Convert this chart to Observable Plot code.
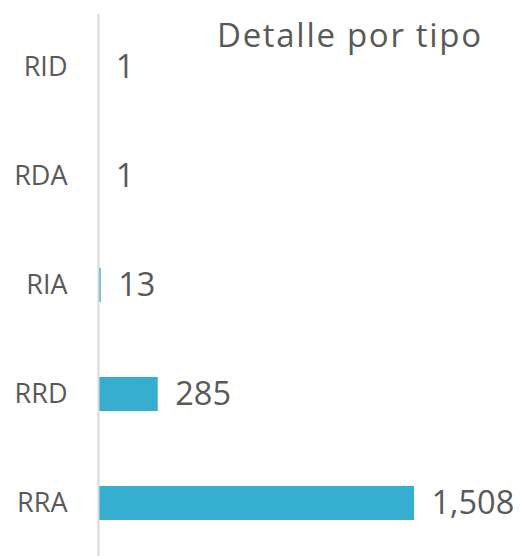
<!DOCTYPE html>
<html>
<head>
<meta charset="utf-8">
<script src="https://cdn.jsdelivr.net/npm/d3@7"></script>
<script src="https://cdn.jsdelivr.net/npm/@observablehq/plot@0.6"></script>
<style>
  html, body { margin: 0; padding: 0; background: #fff; }
  #wrap { position: relative; width: 520px; height: 556px; }
  #title {
    position: absolute; top: 12px; left: 217px;
    font-family: "Open Sans", sans-serif; font-size: 33px; color: #595959;
    white-space: nowrap; letter-spacing: 1.7px; line-height: normal;
  }
</style>
</head>
<body>
<div id="wrap">
  <div id="title">Detalle por tipo</div>
</div>
<script>
const categories = ["RID", "RDA", "RIA", "RRD", "RRA"];
const values = [1, 1, 13, 285, 1508];
const data = categories.map((c, i) => ({tipo: c, valor: values[i]}));

const chart = Plot.plot({
  width: 520,
  height: 556,
  marginLeft: 98,
  marginRight: 106,
  marginTop: 14,
  marginBottom: 0,
  style: {fontFamily: "Open Sans, sans-serif", color: "#595959", background: "transparent"},
  x: {domain: [0, 1508], axis: null},
  y: {domain: categories, paddingInner: 0.688, paddingOuter: 0.33, label: null},
  marks: [
    Plot.axisY({tickSize: 0, tickPadding: 31, fontSize: 27, fill: "#595959", label: null}),
    Plot.barX(data, {x: "valor", y: "tipo", fill: "#36AECF", insetLeft: 1}),
    Plot.ruleX([0], {stroke: "#d9d9d9", strokeWidth: 2}),
    Plot.text(data, {x: "valor", y: "tipo", text: d => d3.format(",")(d.valor), textAnchor: "start", dx: 17, fontSize: 32.5, fill: "#595959"})
  ]
});
document.getElementById("wrap").appendChild(chart);
</script>
</body>
</html>
